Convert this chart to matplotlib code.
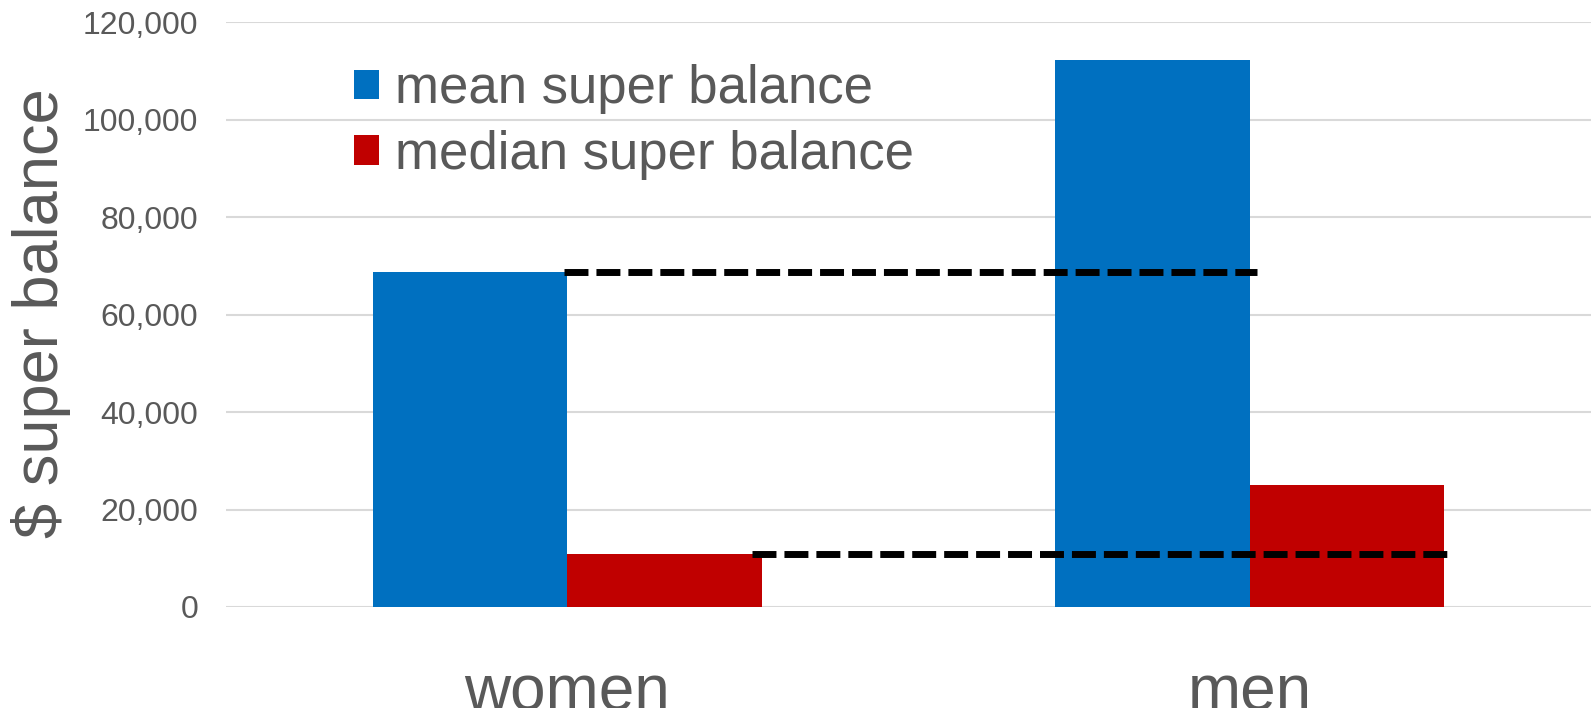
import matplotlib
matplotlib.use("Agg")
import matplotlib.pyplot as plt
import numpy as np
from matplotlib.ticker import FuncFormatter

categories = ["women", "men"]
mean_balance = [68700, 112300]
median_balance = [10800, 25000]
series_labels = ["mean super balance", "median super balance"]
colors = ["#0070C0", "#C00000"]
yticks = [0, 20000, 40000, 60000, 80000, 100000, 120000]

plt.rcParams['font.family'] = ['Liberation Sans', 'DejaVu Sans']
text_color = "#595959"

fig = plt.figure(figsize=(15.91, 7.08), dpi=100)
ax = fig.add_axes([226/1591, 1 - 607/708, 1 - 226/1591, (607 - 22.3)/708])

x = np.arange(len(categories))
w = 0.285
ax.bar(x - w/2, mean_balance, width=w, color=colors[0], label=series_labels[0], zorder=2)
ax.bar(x + w/2, median_balance, width=w, color=colors[1], label=series_labels[1], zorder=2)

# dashed reference lines at women's values, extending to men's bars
dash = (0, (3.45, 1.15))
ax.plot([x[0] - 0.005, x[1] + 0.01], [mean_balance[0]] * 2, color='black', lw=5,
        linestyle=dash, zorder=3, dash_capstyle='butt')
ax.plot([x[0] + w - 0.015, x[1] + w + 0.01], [median_balance[0]] * 2, color='black', lw=5,
        linestyle=dash, zorder=3, dash_capstyle='butt')

ax.set_xlim(-0.5, 1.5)
ax.set_ylim(0, 120000)
ax.set_yticks(yticks)
ax.yaxis.set_major_formatter(FuncFormatter(lambda v, p: f"{int(v):,}"))
ax.grid(axis='y', color='#d9d9d9', lw=1.5, zorder=0)
ax.set_axisbelow(True)
for s in ax.spines.values():
    s.set_visible(False)
ax.tick_params(axis='y', length=0, pad=20, labelsize=23, labelcolor=text_color)
ax.set_xticks(x)
ax.set_xticklabels(categories)
ax.tick_params(axis='x', length=0, pad=41, labelsize=46, labelcolor=text_color)

fig.text(41/1591, 1 - 313/708, "$ super balance", rotation=90, fontsize=45.5,
         color=text_color, ha='center', va='center')

leg = ax.legend(loc='upper left', bbox_to_anchor=(354/1591, 1 - 64/708),
                bbox_transform=fig.transFigure, frameon=False, fontsize=38,
                handlelength=0.48, handleheight=0.48, handletextpad=0.3,
                labelspacing=0.3, borderpad=0, borderaxespad=0)
for t in leg.get_texts():
    t.set_color(text_color)

fig.savefig("out.png", dpi=100)
